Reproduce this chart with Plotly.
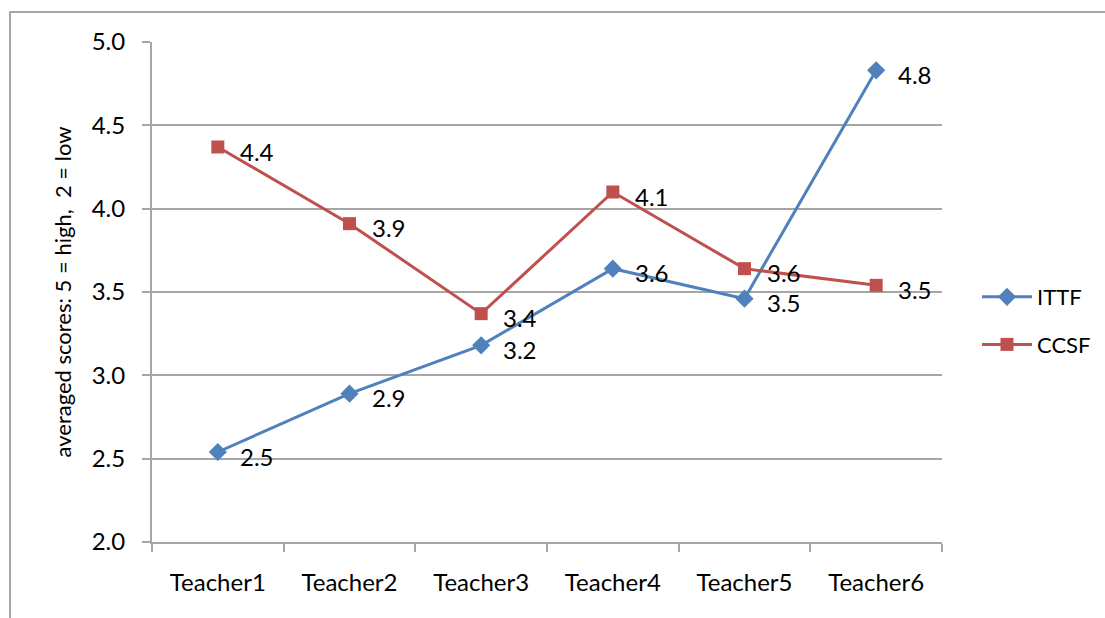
import plotly.graph_objects as go

teachers = ["Teacher1", "Teacher2", "Teacher3", "Teacher4", "Teacher5", "Teacher6"]
ittf = [2.54, 2.89, 3.18, 3.64, 3.46, 4.83]
ccsf = [4.37, 3.91, 3.37, 4.10, 3.64, 3.54]
y_ticks = [2.0, 2.5, 3.0, 3.5, 4.0, 4.5, 5.0]

FONT = "Lato"
SIZE = 24
BLUE = "#4F81BD"
RED = "#C0504D"
GRID = "#A6A6A6"

fig = go.Figure()
fig.add_trace(go.Scatter(
    x=teachers, y=ittf, name="ITTF", mode="lines+markers",
    line=dict(color=BLUE, width=3),
    marker=dict(symbol="diamond", size=14, color=BLUE),
    legendgroup="a",
))
fig.add_trace(go.Scatter(
    x=teachers, y=ccsf, name="CCSF", mode="lines+markers",
    line=dict(color=RED, width=3),
    marker=dict(symbol="square", size=13, color=RED),
    legendgroup="b",
))

# value labels to the right of each point
annotations = []
for series in (ittf, ccsf):
    for t, v in zip(teachers, series):
        annotations.append(dict(
            x=t, y=v, xref="x", yref="y", text=f"{v:.1f}",
            showarrow=False, xanchor="left", yanchor="middle",
            xshift=20, yshift=-4,
            font=dict(family=FONT, size=SIZE, color="black"),
        ))

fig.update_layout(
    width=1105, height=618,
    margin=dict(l=152, r=163, t=42, b=76),
    paper_bgcolor="white", plot_bgcolor="white",
    font=dict(family=FONT, size=SIZE, color="black"),
    annotations=annotations,
    showlegend=True,
    legend=dict(
        xref="container", yref="container",
        x=977 / 1105, y=(618 - 321) / 618, xanchor="left", yanchor="middle",
        font=dict(family=FONT, size=22, color="black"),
        itemwidth=50, tracegroupgap=16, bgcolor="rgba(0,0,0,0)",
    ),
    shapes=[dict(
        type="rect", xref="paper", yref="paper",
        x0=(10 - 152) / 790, x1=(1110 - 152) / 790,
        y0=(542 - 625) / 500, y1=(542 - 12) / 500,
        line=dict(color=GRID, width=2), fillcolor="rgba(0,0,0,0)", layer="below",
    )],
)

fig.update_xaxes(
    type="category", range=[-0.5, len(teachers) - 0.5], showgrid=False,
    showline=True, linecolor=GRID, linewidth=2,
    ticks="outside", tickson="boundaries", ticklen=8, tickcolor=GRID, tickwidth=2,
    ticklabelstandoff=18,
    tickfont=dict(family=FONT, size=SIZE, color="black"),
)
fig.update_yaxes(
    range=[2, 5], tickvals=y_ticks, tickformat=".1f",
    showgrid=True, gridcolor=GRID, gridwidth=2,
    showline=True, linecolor=GRID, linewidth=2,
    ticks="outside", ticklen=8, tickcolor=GRID, tickwidth=2,
    ticklabelstandoff=12, zeroline=False,
    tickfont=dict(family=FONT, size=SIZE, color="black"),
    title=dict(text="averaged scores: 5 = high,\u00a0\u00a02 = low",
               font=dict(family=FONT, size=22, color="black"), standoff=14),
)

fig.write_html("out.html")
